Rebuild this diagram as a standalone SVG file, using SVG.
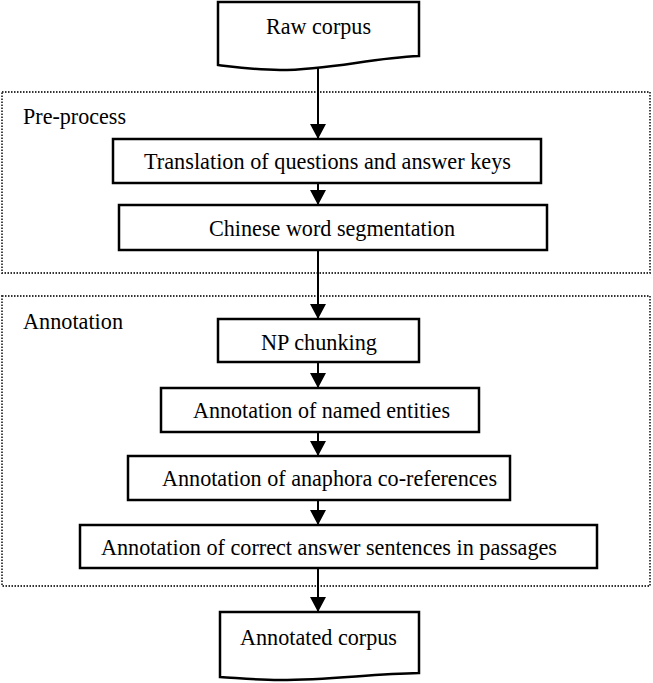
<svg xmlns="http://www.w3.org/2000/svg" width="653" height="683" viewBox="0 0 653 683">
<defs>
<style>
.box{fill:#fff;stroke:#000;stroke-width:2.5}
.grp{fill:none;stroke:#333;stroke-width:1.8;stroke-dasharray:1.5 1.5}
.t{font-family:"Liberation Serif","Times New Roman",serif;font-size:23.5px;fill:#000}
.edge{stroke:#000;stroke-width:2;fill:none}
</style>
<marker id="ah" viewBox="0 0 15 16" refX="15" refY="8" markerUnits="userSpaceOnUse" markerWidth="15" markerHeight="16" orient="auto">
<path d="M0,0 L15,8 L0,16 Z" fill="#000"/>
</marker>
</defs>
<rect width="653" height="683" fill="#fff"/>
<g id="preprocess">
<rect class="grp" x="2" y="92" width="648" height="181"/>
<text class="t" x="23" y="124" textLength="103" lengthAdjust="spacingAndGlyphs">Pre-process</text>
</g>
<g id="annotation">
<rect class="grp" x="2" y="296" width="648" height="290"/>
<text class="t" x="23" y="329" textLength="100" lengthAdjust="spacingAndGlyphs">Annotation</text>
</g>
<g id="connectors">
<line class="edge" x1="318" y1="68" x2="318" y2="139" marker-end="url(#ah)"/>
<line class="edge" x1="318" y1="183" x2="318" y2="205" marker-end="url(#ah)"/>
<line class="edge" x1="318" y1="250" x2="318" y2="319" marker-end="url(#ah)"/>
<line class="edge" x1="318" y1="362" x2="318" y2="388" marker-end="url(#ah)"/>
<line class="edge" x1="318" y1="432" x2="318" y2="456" marker-end="url(#ah)"/>
<line class="edge" x1="318" y1="500" x2="318" y2="525" marker-end="url(#ah)"/>
<line class="edge" x1="318" y1="568" x2="318" y2="612" marker-end="url(#ah)"/>
</g>
<g id="raw">
<path class="box" d="M218,2 H419 V56 C370,58 330,70 280,70 C255,70 235,67 218,65 Z"/>
<text class="t" x="266" y="34" textLength="105" lengthAdjust="spacingAndGlyphs">Raw corpus</text>
</g>
<g id="translation">
<rect class="box" x="113" y="139" width="428" height="44"/>
<text class="t" x="144" y="169" textLength="367" lengthAdjust="spacingAndGlyphs">Translation of questions and answer keys</text>
</g>
<g id="segmentation">
<rect class="box" x="119" y="205" width="428" height="45"/>
<text class="t" x="209" y="236" textLength="246" lengthAdjust="spacingAndGlyphs">Chinese word segmentation</text>
</g>
<g id="np">
<rect class="box" x="218" y="319" width="201" height="43"/>
<text class="t" x="261" y="350" textLength="116" lengthAdjust="spacingAndGlyphs">NP chunking</text>
</g>
<g id="named">
<rect class="box" x="161" y="388" width="318" height="44"/>
<text class="t" x="193" y="418" textLength="257" lengthAdjust="spacingAndGlyphs">Annotation of named entities</text>
</g>
<g id="anaphora">
<rect class="box" x="128" y="456" width="382" height="44"/>
<text class="t" x="162" y="486" textLength="335" lengthAdjust="spacingAndGlyphs">Annotation of anaphora co-references</text>
</g>
<g id="correct">
<rect class="box" x="80" y="525" width="517" height="43"/>
<text class="t" x="101" y="555" textLength="456" lengthAdjust="spacingAndGlyphs">Annotation of correct answer sentences in passages</text>
</g>
<g id="annotated">
<path class="box" d="M220,612 H419 V673 C370,674 330,680 280,680 C255,680 238,678 220,677 Z"/>
<text class="t" x="240" y="645" textLength="157" lengthAdjust="spacingAndGlyphs">Annotated corpus</text>
</g>
</svg>
